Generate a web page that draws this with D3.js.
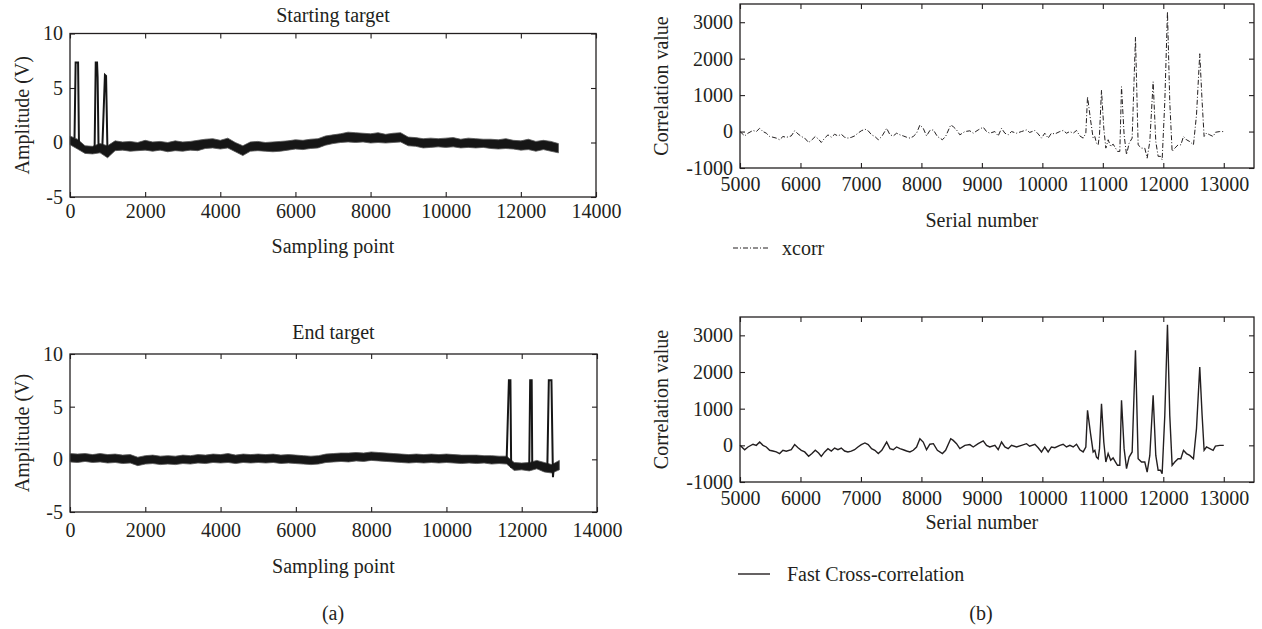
<!DOCTYPE html>
<html><head><meta charset="utf-8">
<script src="https://cdn.jsdelivr.net/npm/d3@7"></script>
<style>
body{margin:0;background:#fff}
text{font-family:"Liberation Serif","Times New Roman",serif;fill:#231f20}
</style>
</head><body>
<svg id="c" width="1262" height="629"></svg>
<script>
// ---------- DATA ----------
// (a) noise band envelopes, sampled every 200 points (0..13000)
const bandStep = 200;
const startBandLo = [-0.2,-0.6,-1.0,-1.05,-0.95,-1.4,-0.75,-0.7,-0.8,-0.75,-0.7,-0.8,-0.7,-0.85,-0.75,-0.8,-0.7,-0.75,-0.55,-0.5,-0.6,-0.5,-0.85,-1.2,-0.8,-0.75,-0.8,-0.85,-0.8,-0.7,-0.6,-0.65,-0.55,-0.5,-0.25,-0.1,0.0,0.05,0.0,0.05,-0.05,0.0,-0.05,0.0,0.05,-0.3,-0.35,-0.5,-0.45,-0.4,-0.45,-0.4,-0.5,-0.45,-0.5,-0.45,-0.55,-0.6,-0.55,-0.6,-0.7,-0.65,-0.8,-0.65,-0.8,-0.95];
const startBandHi = [0.6,0.3,-0.3,-0.35,-0.1,-0.3,0.15,0.05,0.1,0.0,0.2,0.05,0.1,0.0,0.15,0.05,0.1,0.2,0.3,0.35,0.2,0.4,0.0,-0.3,0.05,0.1,0.0,0.05,0.1,0.15,0.25,0.2,0.3,0.35,0.6,0.7,0.8,0.95,0.9,0.85,0.8,0.9,0.75,0.85,0.9,0.5,0.45,0.35,0.4,0.35,0.4,0.45,0.3,0.4,0.35,0.3,0.3,0.25,0.35,0.2,0.15,0.3,0.1,0.2,0.1,-0.1];
const endBandLo = [-0.25,-0.3,-0.2,-0.3,-0.25,-0.35,-0.3,-0.4,-0.35,-0.6,-0.45,-0.4,-0.5,-0.45,-0.5,-0.4,-0.45,-0.35,-0.4,-0.3,-0.35,-0.3,-0.4,-0.3,-0.35,-0.3,-0.35,-0.3,-0.4,-0.35,-0.4,-0.45,-0.5,-0.45,-0.3,-0.25,-0.2,-0.25,-0.15,-0.2,-0.1,-0.15,-0.2,-0.25,-0.3,-0.35,-0.3,-0.35,-0.3,-0.35,-0.3,-0.35,-0.4,-0.35,-0.4,-0.35,-0.45,-0.4,-0.45,-1.05,-1.0,-1.1,-0.9,-1.2,-1.3,-1.0];
const endBandHi = [0.55,0.5,0.55,0.45,0.55,0.45,0.5,0.4,0.45,0.2,0.35,0.4,0.3,0.35,0.3,0.4,0.35,0.45,0.4,0.5,0.45,0.55,0.4,0.5,0.45,0.5,0.45,0.5,0.4,0.45,0.4,0.35,0.3,0.35,0.5,0.55,0.6,0.6,0.65,0.6,0.7,0.65,0.6,0.55,0.5,0.45,0.5,0.45,0.5,0.45,0.5,0.45,0.4,0.4,0.4,0.35,0.35,0.3,0.3,-0.3,-0.35,-0.3,-0.1,-0.3,-0.5,-0.1];
// (a) trigger pulses (sample index, amplitude)
const startPulseX = [[120,150,215,240],[655,685,720,735,760],[860,930,960,1000,1040]];
const startPulseY = [[0.4,7.35,7.35,-0.5],[-0.6,7.35,7.35,6.0,-0.6],[-0.5,6.2,6.1,-1.3,-0.4]];
const endPulseX = [[11600,11660,11700,11720],[12200,12225,12265,12280],[12680,12720,12790,12830,12860]];
const endPulseY = [[0.0,7.5,7.5,-0.8],[-0.7,7.5,7.5,-0.6],[-0.9,7.5,7.5,-1.7,-0.4]];
const ampTicks = [-5,0,5,10];
const sampleTicks = [0,2000,4000,6000,8000,10000,12000,14000];

// (b) correlation results
const serialNumbers = [5000,5077,5132,5215,5270,5325,5380,5435,5490,5545,5600,5655,5710,5765,5848,5904,5960,6014,6070,6135,6190,6245,6300,6344,6400,6455,6510,6565,6620,6675,6730,6785,6840,6895,6950,7006,7066,7120,7176,7230,7287,7345,7425,7480,7535,7590,7645,7700,7755,7810,7865,7920,7975,8030,8085,8140,8198,8264,8347,8400,8485,8526,8581,8636,8719,8801,8857,8939,9022,9077,9130,9215,9270,9325,9380,9435,9490,9573,9655,9738,9790,9876,9931,9986,10040,10096,10150,10207,10289,10344,10399,10455,10510,10565,10620,10675,10719,10747,10797,10840,10868,10895,10923,10945,10978,11016,11050,11088,11130,11170,11210,11243,11281,11309,11352,11392,11435,11485,11540,11584,11640,11694,11733,11777,11832,11876,11915,11954,11981,12025,12069,12107,12146,12190,12245,12290,12334,12383,12438,12499,12549,12603,12642,12675,12714,12769,12824,12862,12934,13000];
const fastXcorrValues = [0,-120,-45,30,0,90,0,-45,-135,-155,-180,-225,-135,-160,-120,20,-65,-135,-180,-300,-225,-135,-210,-300,-180,-90,-155,-75,-120,-75,-155,-180,-160,-120,-45,20,65,20,-90,-135,-225,-135,90,-90,-120,-45,-90,-120,-155,-180,-135,-45,180,90,-120,30,45,-135,-225,-135,180,135,45,-90,0,20,-45,45,120,0,-45,0,-120,90,-45,-90,0,-45,0,45,-25,30,-65,-180,-45,-180,-45,-65,0,30,-45,0,-45,30,-120,-180,-45,955,320,-180,-135,-320,-365,-90,1135,90,-455,-225,-410,-345,-455,-545,-545,1230,-90,-635,-320,-180,2590,-365,-455,-455,-730,-275,1365,-275,-680,-680,-775,820,3290,820,-545,-455,-365,-365,-135,-225,-275,-365,455,2135,820,-135,-45,-90,-135,-20,0,0];
const xcorrValues = fastXcorrValues.slice();
const serialTicks = [5000,6000,7000,8000,9000,10000,11000,12000,13000];
const corrTicks = [-1000,0,1000,2000,3000];

// ---------- DRAW ----------
const svg = d3.select('#c');
const FS = 20;
const ink = '#231f20';

function panel(box, xDom, yDom, xTicks, yTicks, xPad) {
  const x = d3.scaleLinear().domain(xDom).range([box.x0, box.x1]);
  const y = d3.scaleLinear().domain(yDom).range([box.y1, box.y0]);
  const g = svg.append('g');
  const fmt = d => String(d);
  const style = sel => {
    sel.select('.domain').remove();
    sel.selectAll('line').attr('stroke', ink).attr('stroke-width', 1.1);
    sel.selectAll('text').attr('font-size', FS).attr('font-family', '"Liberation Serif",serif').attr('fill', ink);
    sel.attr('font-size', null).attr('font-family', null);
  };
  g.append('g').attr('transform', `translate(0,${box.y1})`)
    .call(d3.axisBottom(x).tickValues(xTicks).tickSize(-5).tickPadding(xPad).tickFormat(fmt)).call(style);
  g.append('g').attr('transform', `translate(0,${box.y0})`)
    .call(d3.axisTop(x).tickValues(xTicks).tickSize(-5).tickFormat('')).call(style);
  g.append('g').attr('transform', `translate(${box.x0},0)`)
    .call(d3.axisLeft(y).tickValues(yTicks).tickSize(-5).tickPadding(7).tickFormat(fmt)).call(style);
  g.append('g').attr('transform', `translate(${box.x1},0)`)
    .call(d3.axisRight(y).tickValues(yTicks).tickSize(-5).tickFormat('')).call(style);
  g.append('rect').attr('x', box.x0).attr('y', box.y0)
    .attr('width', box.x1 - box.x0).attr('height', box.y1 - box.y0)
    .attr('fill', 'none').attr('stroke', ink).attr('stroke-width', 1.3);
  return {x, y, g};
}

function label(txt, x, y, rot) {
  const t = svg.append('text').attr('x', x).attr('y', y).attr('font-size', FS)
    .attr('text-anchor', 'middle').attr('dominant-baseline', 'central').text(txt);
  if (rot) t.attr('transform', `rotate(-90,${x},${y})`);
  return t;
}

function signalPanel(box, lo, hi, px, py, title, titleY, xlabY, xPad) {
  const p = panel(box, [0, 14000], [-5, 10], sampleTicks, ampTicks, xPad);
  const band = lo.map((v, i) => ({s: i * bandStep, lo: v, hi: hi[i]}));
  p.g.append('path').datum(band)
    .attr('d', d3.area().x(d => p.x(d.s)).y0(d => p.y(d.lo)).y1(d => p.y(d.hi)))
    .attr('fill', '#161616').attr('stroke', '#555').attr('stroke-width', 0.8);
  px.forEach((xs, k) => {
    const pts = xs.map((s, i) => [s, py[k][i]]);
    p.g.append('path').datum(pts)
      .attr('d', d3.line().x(d => p.x(d[0])).y(d => p.y(d[1])))
      .attr('fill', 'none').attr('stroke', '#161616').attr('stroke-width', 2);
  });
  label(title, (box.x0 + box.x1) / 2, titleY);
  label('Sampling point', (box.x0 + box.x1) / 2, xlabY);
  label('Amplitude (V)', 22, (box.y0 + box.y1) / 2, true);
}

signalPanel({x0: 70, x1: 596, y0: 33.5, y1: 197}, startBandLo, startBandHi, startPulseX, startPulseY, 'Starting target', 15, 246, 7);
signalPanel({x0: 70, x1: 597, y0: 354, y1: 512}, endBandLo, endBandHi, endPulseX, endPulseY, 'End target', 332, 566, 11);

function corrPanel(box, vals, dash, width, xlabY, legY, legX0, legX1, legTxtX, legTxt) {
  const p = panel(box, [5000, 13500], [-1000, 3500], serialTicks, corrTicks, 9);
  const pts = serialNumbers.map((s, i) => [s, vals[i]]);
  p.g.append('path').datum(pts)
    .attr('d', d3.line().x(d => p.x(d[0])).y(d => p.y(d[1])))
    .attr('fill', 'none').attr('stroke', ink).attr('stroke-width', width)
    .attr('stroke-dasharray', dash);
  label('Serial number', (p.x(5000) + p.x(13000)) / 2, xlabY);
  label('Correlation value', 661, (box.y0 + box.y1) / 2, true);
  svg.append('line').attr('x1', legX0).attr('x2', legX1).attr('y1', legY).attr('y2', legY)
    .attr('stroke', ink).attr('stroke-width', width).attr('stroke-dasharray', dash);
  svg.append('text').attr('x', legTxtX).attr('y', legY).attr('font-size', FS)
    .attr('dominant-baseline', 'central').text(legTxt);
}

corrPanel({x0: 740, x1: 1254, y0: 4, y1: 168}, xcorrValues, '5,2,1,2', 1, 220, 248, 733, 768, 782, 'xcorr');
corrPanel({x0: 740, x1: 1254, y0: 317, y1: 482}, fastXcorrValues, null, 1.4, 522, 574, 738, 770, 787, 'Fast Cross-correlation');

label('(a)', 333, 613);
label('(b)', 981, 613);
</script>
</body></html>
